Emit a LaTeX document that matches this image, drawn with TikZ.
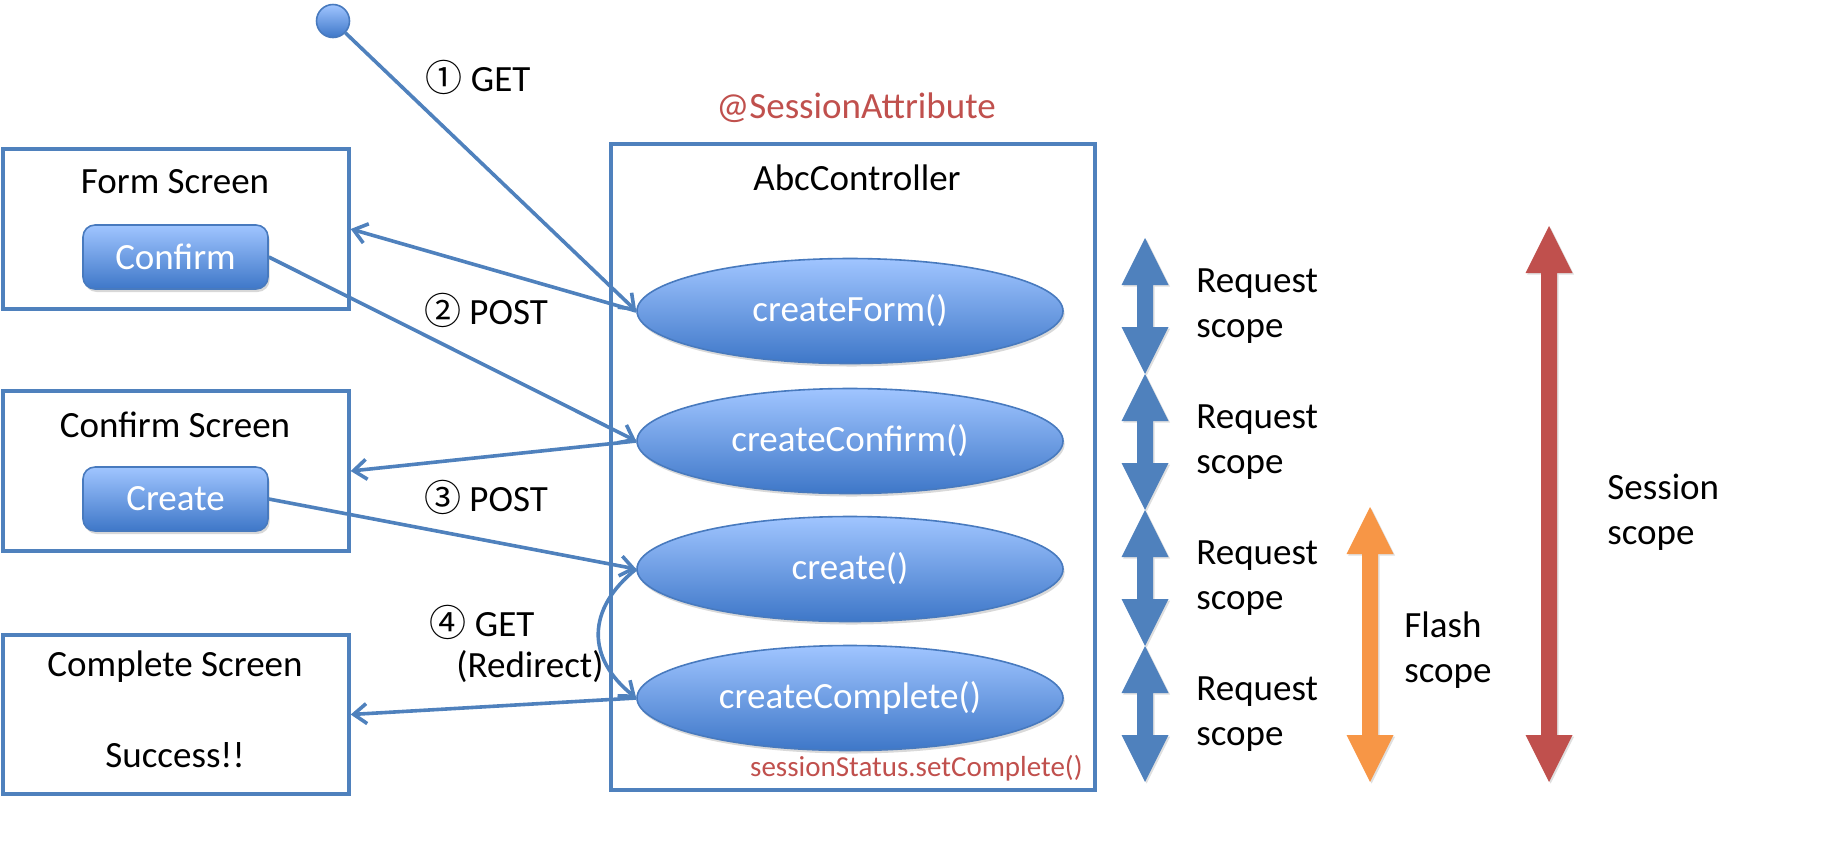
\documentclass[tikz,border=0pt]{standalone}
\usepackage{fontspec}
\setmainfont{Carlito}
\newfontfamily\cjkfont{Noto Sans CJK JP}
\usetikzlibrary{arrows.meta,shadows,shapes.geometric}
\definecolor{accblue}{HTML}{4F81BD}
\definecolor{accred}{HTML}{C0504D}
\definecolor{accorange}{HTML}{F79646}
\definecolor{gradtop}{RGB}{160,197,255}
\definecolor{gradbot}{RGB}{62,119,200}
\definecolor{edgeblue}{RGB}{72,122,190}
\newcommand\scopearrow[4]{%
  \fill[#4, drop shadow={shadow xshift=0.8pt, shadow yshift=-0.8pt, opacity=0.25}]
    (#1,#2) -- ({#1+23.5},{#2+47}) -- ({#1+8},{#2+47}) -- ({#1+8},{#3-47})
    -- ({#1+23.5},{#3-47}) -- (#1,#3) -- ({#1-23.5},{#3-47}) -- ({#1-8},{#3-47})
    -- ({#1-8},{#2+47}) -- ({#1-23.5},{#2+47}) -- cycle;}
\begin{document}
\begin{tikzpicture}[x=0.5pt,y=-0.5pt,
  txt/.style={font=\fontsize{18.5}{22.5}\selectfont, inner sep=0pt},
  scrbox/.style={draw=accblue, line width=1.7pt, fill=white, rectangle, inner sep=0pt,
    minimum width=173pt, minimum height=80pt},
  meth/.style={ellipse, draw=edgeblue, line width=0.8pt, top color=gradtop, bottom color=gradbot,
    minimum width=213pt, minimum height=52.5pt, inner sep=0pt, text=white,
    font=\fontsize{18.5}{22.5}\selectfont,
    drop shadow={shadow xshift=0.8pt, shadow yshift=-1.5pt, opacity=0.3}},
  btn/.style={rectangle, rounded corners=6pt, draw=edgeblue, line width=0.8pt,
    top color=gradtop, bottom color=gradbot, minimum width=92.5pt, minimum height=32pt,
    inner sep=0pt, text=white, font=\fontsize{18.5}{22.5}\selectfont,
    drop shadow={shadow xshift=0.8pt, shadow yshift=-1.5pt, opacity=0.3}},
  conn/.style={draw=accblue, line width=1.8pt},
  tip/.style={-{Straight Barb[length=6.5pt, width=10pt, line width=1.8pt]}},
]
\useasboundingbox (0,0) rectangle (1840,843);

% left screens
\node[scrbox] (form) at (176,229) {};
\node[scrbox] (conf) at (176,471) {};
\node[scrbox, minimum height=79.5pt] (comp) at (176,714.5) {};
\node[txt] (formt) at (175,182) {Form Screen};
\node[txt] (conft) at (175,425) {Confirm Screen};
\node[txt] (compt) at (175,667) {Complete Screen};
\node[txt] (succ) at (175,755) {Success!!};
\node[btn] (bconf) at (175.5,257) {Confirm};
\node[btn] (bcreate) at (175.5,499) {Create};

% controller
\node[draw=accblue, line width=1.7pt, rectangle, inner sep=0pt,
  minimum width=242pt, minimum height=323pt] (ctrl) at (853,467) {};
\node[txt, text=accred] (sa) at (856,108) {@SessionAttribute};
\node[txt] (ctrlt) at (857,178) {AbcController};
\node[meth] (cf) at (850,311) {createForm()};
\node[meth] (ccf) at (850,441) {createConfirm()};
\node[meth] (cr) at (850,569) {create()};
\node[meth] (cc) at (850,698) {createComplete()};
\node[font=\fontsize{14.5}{17}\selectfont, text=accred, inner sep=0pt, anchor=east] (ss) at (1083,768) {sessionStatus.setComplete()};

% start dot
\node[circle, draw=edgeblue, line width=0.8pt, top color=gradtop, bottom color=gradbot,
  minimum size=16.5pt, inner sep=0pt] (dot) at (333,21) {};

% connectors
\draw[conn, tip] (dot) -- (cf.west);
\draw[conn, tip] (cf.west) -- (form.east);
\draw[conn, tip] (bconf.east) -- (ccf.west);
\draw[conn, tip] (ccf.west) -- (conf.east);
\draw[conn, tip] (bcreate.east) -- (cr.west);
\draw[conn, tip] (cr.west) .. controls +(-50,40) and +(-50,-40) .. (cc.west);
\draw[conn, tip] (cc.west) -- (comp.east);

% labels
\node[txt] (l1) at (478,77) {{\cjkfont ①} GET};
\node[txt] (l2) at (486,310) {{\cjkfont ②} POST};
\node[txt] (l3) at (486,497) {{\cjkfont ③} POST};
\node[txt] (l4) at (482,622) {{\cjkfont ④} GET};
\node[txt] (l4b) at (530,667) {(Redirect)};

% scope arrows
\scopearrow{1145}{238}{374}{accblue}
\scopearrow{1145}{374}{510}{accblue}
\scopearrow{1145}{510}{646}{accblue}
\scopearrow{1145}{646}{782}{accblue}
\scopearrow{1370}{507}{782}{accorange}
\scopearrow{1549}{226}{782}{accred}

\node[txt, anchor=west, align=left] (r1) at (1196,306) {Request\\scope};
\node[txt, anchor=west, align=left] (r2) at (1196,442) {Request\\scope};
\node[txt, anchor=west, align=left] (r3) at (1196,578) {Request\\scope};
\node[txt, anchor=west, align=left] (r4) at (1196,714) {Request\\scope};
\node[txt, anchor=west, align=left] (fl) at (1404,650) {Flash\\scope};
\node[txt, anchor=west, align=left] (se) at (1607,512) {Session\\scope};
\end{tikzpicture}
\end{document}
